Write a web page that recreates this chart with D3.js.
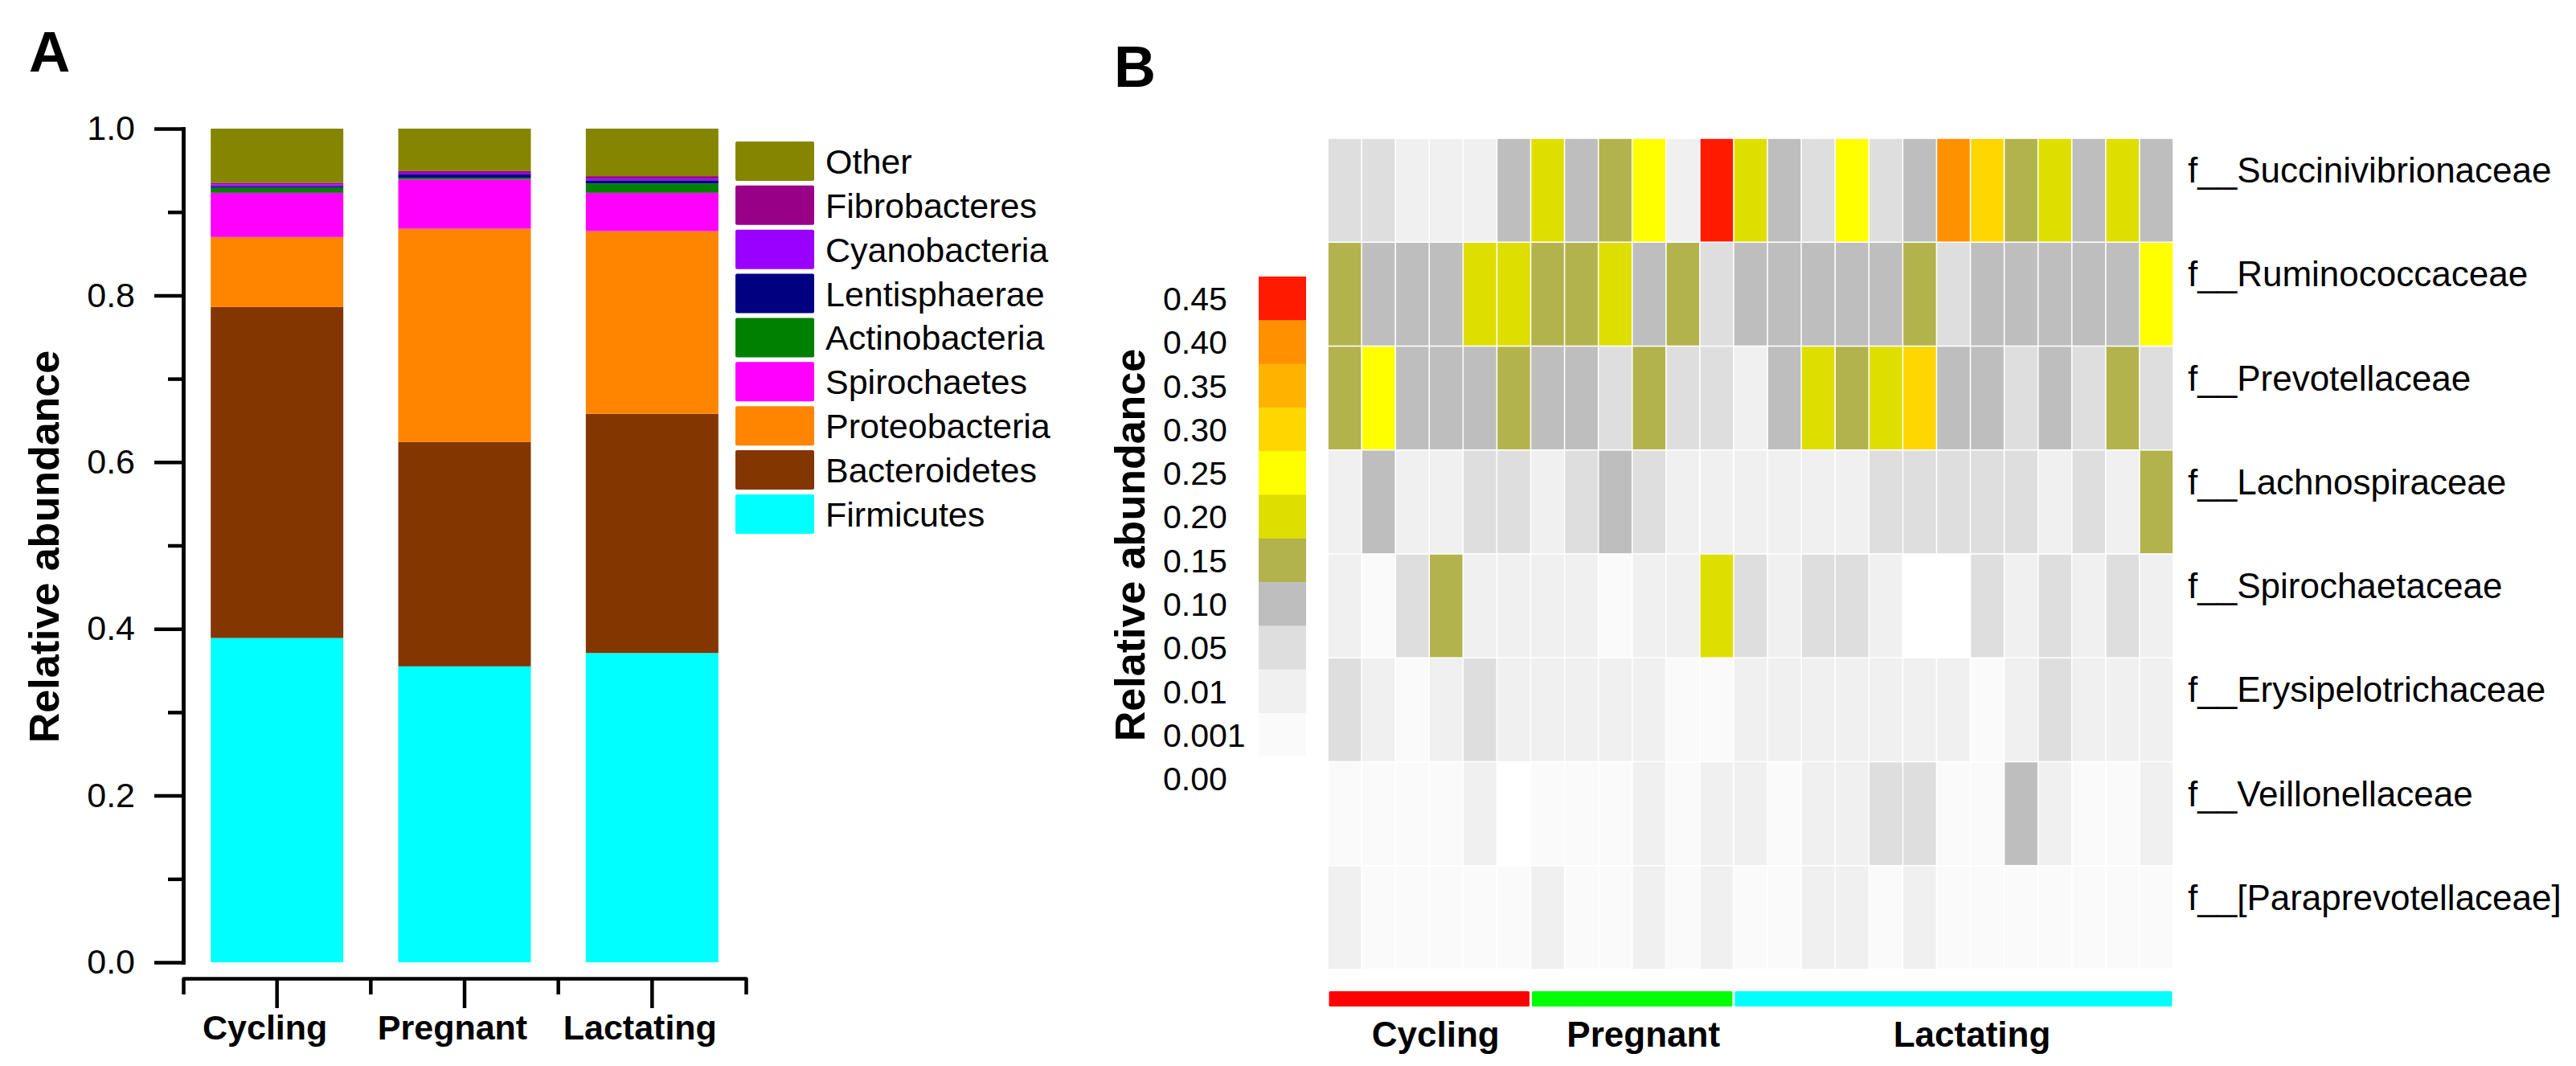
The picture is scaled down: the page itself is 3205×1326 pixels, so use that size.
<!DOCTYPE html>
<html><head><meta charset="utf-8">
<script src="https://cdn.jsdelivr.net/npm/d3@7"></script>
<style>
html,body{margin:0;padding:0;background:#fff;}
svg{display:block;font-family:"Liberation Sans",Arial,Helvetica,sans-serif;}
</style>
</head><body>
<svg id="chart" width="3205" height="1326"></svg>
<script>
// ---------------- Panel A data ----------------
const groups = ["Cycling", "Pregnant", "Lactating"];
const phyla = ["Firmicutes", "Bacteroidetes", "Proteobacteria", "Spirochaetes", "Actinobacteria", "Lentisphaerae", "Cyanobacteria", "Fibrobacteres", "Other"];
const phylumColors = ["#00FFFF", "#843600", "#FF8500", "#FF00FF", "#008000", "#000080", "#9900FF", "#990088", "#858500"];
const cyclingValues   = [0.389, 0.397, 0.084, 0.053, 0.006, 0.002, 0.002, 0.002, 0.065];
const pregnantValues  = [0.355, 0.269, 0.256, 0.059, 0.002, 0.004, 0.002, 0.002, 0.051];
const lactatingValues = [0.371, 0.287, 0.219, 0.046, 0.011, 0.004, 0.002, 0.003, 0.057];
const yMajorTicks = [0, 0.2, 0.4, 0.6, 0.8, 1.0];
const yMinorTicks = [0.1, 0.3, 0.5, 0.7, 0.9];

// ---------------- Panel B data ----------------
const families = ["f__Succinivibrionaceae", "f__Ruminococcaceae", "f__Prevotellaceae", "f__Lachnospiraceae",
                  "f__Spirochaetaceae", "f__Erysipelotrichaceae", "f__Veillonellaceae", "f__[Paraprevotellaceae]"];
const samples = ["C1","C2","C3","C4","C5","C6","P1","P2","P3","P4","P5","P6",
                 "L1","L2","L3","L4","L5","L6","L7","L8","L9","L10","L11","L12","L13"];
const sampleGroup = ["Cycling","Cycling","Cycling","Cycling","Cycling","Cycling",
                     "Pregnant","Pregnant","Pregnant","Pregnant","Pregnant","Pregnant",
                     "Lactating","Lactating","Lactating","Lactating","Lactating","Lactating","Lactating",
                     "Lactating","Lactating","Lactating","Lactating","Lactating","Lactating"];
const succinivibrionaceae = [0.07,0.06,0.03,0.02,0.03,0.12,0.22,0.13,0.17,0.27,0.02,0.47,0.21,0.12,0.08,0.28,0.07,0.13,0.42,0.32,0.18,0.23,0.11,0.22,0.12];
const ruminococcaceae     = [0.17,0.13,0.12,0.13,0.21,0.22,0.16,0.18,0.21,0.14,0.16,0.08,0.12,0.13,0.12,0.14,0.13,0.17,0.09,0.12,0.13,0.12,0.11,0.13,0.26];
const prevotellaceae      = [0.16,0.27,0.12,0.13,0.11,0.17,0.12,0.13,0.08,0.16,0.07,0.06,0.04,0.12,0.21,0.18,0.22,0.31,0.13,0.12,0.08,0.11,0.07,0.17,0.06];
const lachnospiraceae     = [0.04,0.11,0.03,0.04,0.06,0.07,0.04,0.06,0.12,0.06,0.03,0.04,0.04,0.03,0.04,0.04,0.06,0.07,0.06,0.06,0.07,0.04,0.06,0.04,0.16];
const spirochaetaceae     = [0.02,0.008,0.06,0.16,0.03,0.02,0.02,0.03,0.007,0.02,0.03,0.21,0.06,0.03,0.06,0.07,0.03,0.0008,0.0009,0.06,0.03,0.06,0.02,0.06,0.03];
const erysipelotrichaceae = [0.06,0.02,0.008,0.02,0.06,0.02,0.02,0.02,0.03,0.02,0.008,0.009,0.02,0.02,0.02,0.02,0.02,0.02,0.02,0.007,0.02,0.06,0.02,0.02,0.02];
const veillonellaceae     = [0.006,0.005,0.006,0.005,0.02,0.0005,0.005,0.006,0.005,0.02,0.006,0.02,0.02,0.007,0.02,0.02,0.06,0.06,0.005,0.006,0.11,0.02,0.006,0.005,0.02];
const paraprevotellaceae  = [0.015,0.004,0.005,0.004,0.005,0.004,0.015,0.005,0.004,0.015,0.004,0.015,0.005,0.004,0.015,0.015,0.005,0.015,0.004,0.005,0.004,0.005,0.004,0.005,0.004];
const heatBreaks = [0.001, 0.01, 0.05, 0.10, 0.15, 0.20, 0.25, 0.30, 0.35, 0.40, 0.45];
const heatColors = ["#FFFFFF", "#FAFAFA", "#F0F0F0", "#DEDEDE", "#BEBEBE", "#B3B34D", "#DEDE00", "#FFFF00", "#FFD600", "#FFB300", "#FF9100", "#FF1A00"];
const legendLabels = ["0.45", "0.40", "0.35", "0.30", "0.25", "0.20", "0.15", "0.10", "0.05", "0.01", "0.001", "0.00"];
const groupColors = ["#FF0000", "#00FF00", "#00FFFF"];

// ---------------- drawing ----------------
const svg = d3.select("#chart");
svg.append("rect").attr("width", 3205).attr("height", 1326).attr("fill", "#fff");

// ===== Panel A =====
const A = svg.append("g");
A.append("text").attr("x", 36).attr("y", 89).attr("font-size", 71).attr("font-weight", "bold").text("A");

const yA = d3.scaleLinear().domain([0, 1]).range([1197, 160]);
const xA = d3.scaleBand().domain(groups).range([228, 928]).paddingInner(0.293).paddingOuter(0.1465);
const xAxisBand = d3.scaleBand().domain(groups).range([228, 928]);

const table = groups.map((g, gi) => {
  const vals = [cyclingValues, pregnantValues, lactatingValues][gi];
  const row = {group: g};
  phyla.forEach((p, i) => row[p] = vals[i]);
  return row;
});
const stacked = d3.stack().keys(phyla)(table);
const colorA = d3.scaleOrdinal().domain(phyla).range(phylumColors);

A.append("g").selectAll("g").data(stacked).join("g")
  .attr("fill", d => colorA(d.key))
  .selectAll("rect").data(d => d).join("rect")
  .attr("x", d => xA(d.data.group))
  .attr("width", xA.bandwidth())
  .attr("y", d => yA(d[1]))
  .attr("height", d => yA(d[0]) - yA(d[1]));

// y axis
const yAxis = A.append("g").attr("transform", "translate(228,0)")
  .call(d3.axisLeft(yA).tickValues(yMajorTicks).tickFormat(d3.format(".1f")).tickSize(36).tickSizeOuter(0).tickPadding(24));
yAxis.selectAll("text").attr("font-size", 43).attr("fill", "#000").attr("font-family", "Liberation Sans, Arial, sans-serif");
const yMinor = A.append("g").attr("transform", "translate(228,0)")
  .call(d3.axisLeft(yA).tickValues(yMinorTicks).tickFormat("").tickSize(19).tickSizeOuter(0));
[yAxis, yMinor].forEach(g => {
  g.selectAll("path,line").attr("stroke", "#000").attr("stroke-width", 4.5);
  g.select(".domain").attr("stroke-linecap", "square");
});

// x axis
const xAxis = A.append("g").attr("transform", "translate(0,1217)")
  .call(d3.axisBottom(xAxisBand).tickSize(37).tickSizeOuter(20).tickFormat(""));
xAxis.selectAll("path,line").attr("stroke", "#000").attr("stroke-width", 4.5);
xAxis.select(".domain").attr("stroke-linejoin", "round");
A.append("g").selectAll("line").data(groups.slice(1)).join("line")
  .attr("x1", d => xAxisBand(d)).attr("x2", d => xAxisBand(d))
  .attr("y1", 1217).attr("y2", 1237).attr("stroke", "#000").attr("stroke-width", 4.5);
A.append("g").selectAll("text").data(groups).join("text")
  .attr("x", d => xAxisBand(d) + xAxisBand.bandwidth() / 2 - 15)
  .attr("y", 1293).attr("text-anchor", "middle")
  .attr("font-size", 43).attr("font-weight", "bold").text(d => d);

A.append("text").attr("transform", "translate(73,680) rotate(-90)")
  .attr("text-anchor", "middle").attr("font-size", 52).attr("font-weight", "bold").text("Relative abundance");

// legend A (top: Other)
const legendOrder = phyla.slice().reverse();
const legY = d3.scaleBand().domain(legendOrder).range([176, 176 + 9 * 54.25]).paddingInner(0.1);
const legA = A.append("g");
legA.selectAll("rect").data(legendOrder).join("rect")
  .attr("x", 915).attr("y", d => legY(d)).attr("width", 98).attr("height", 49)
  .attr("rx", 2).attr("fill", d => colorA(d));
legA.selectAll("text").data(legendOrder).join("text")
  .attr("x", 1027).attr("y", d => legY(d) + 24.5).attr("dy", "0.36em")
  .attr("font-size", 43).text(d => d);

// ===== Panel B =====
const B = svg.append("g");
B.append("text").attr("x", 1386).attr("y", 108).attr("font-size", 72).attr("font-weight", "bold").text("B");

const familyValues = [succinivibrionaceae, ruminococcaceae, prevotellaceae, lachnospiraceae,
                      spirochaetaceae, erysipelotrichaceae, veillonellaceae, paraprevotellaceae];
const xB = d3.scaleBand().domain(samples).range([1652, 2704]);
const yB = d3.scaleBand().domain(families).range([172, 1206]);
const heatColor = d3.scaleThreshold().domain(heatBreaks).range(heatColors);

const cells = [];
families.forEach((f, fi) => samples.forEach((s, si) => cells.push({f, s, v: familyValues[fi][si]})));
B.append("g").selectAll("rect").data(cells).join("rect")
  .attr("x", d => xB(d.s) + 0.8).attr("y", d => yB(d.f) + 0.8)
  .attr("width", xB.bandwidth() - 1.6).attr("height", yB.bandwidth() - 1.6)
  .attr("fill", d => heatColor(d.v));

B.append("g").selectAll("text").data(families).join("text")
  .attr("x", 2722).attr("y", d => yB(d) + 55)
  .attr("font-size", 44).text(d => d);

// group bar
const gColor = d3.scaleOrdinal().domain(groups).range(groupColors);
const groupExtent = groups.map(g => {
  const idx = samples.filter((s, i) => sampleGroup[i] === g);
  return {g, x0: xB(idx[0]), x1: xB(idx[idx.length - 1]) + xB.bandwidth()};
});
B.append("g").selectAll("rect").data(groupExtent).join("rect")
  .attr("x", d => d.x0 + 1.5).attr("width", d => d.x1 - d.x0 - 3)
  .attr("y", 1233).attr("height", 19).attr("rx", 1.5)
  .attr("fill", d => gColor(d.g));
B.append("g").selectAll("text").data(groupExtent).join("text")
  .attr("x", (d, i) => (d.x0 + d.x1) / 2 + [8, 14, 23][i]).attr("y", 1302)
  .attr("text-anchor", "middle").attr("font-size", 44).attr("font-weight", "bold").text(d => d.g);

// color legend
const legB = d3.scaleBand().domain(legendLabels).range([344, 344 + 12 * 54.3]);
B.append("g").selectAll("rect").data(legendLabels).join("rect")
  .attr("x", 1566).attr("y", d => legB(d)).attr("width", 59).attr("height", legB.bandwidth() + 0.5)
  .attr("fill", d => heatColor(+d));
B.append("g").selectAll("text").data(legendLabels).join("text")
  .attr("x", 1447).attr("y", d => legB(d) + legB.bandwidth() / 2).attr("dy", "0.36em")
  .attr("font-size", 41).text(d => d);
B.append("text").attr("transform", "translate(1424,678) rotate(-90)")
  .attr("text-anchor", "middle").attr("font-size", 52).attr("font-weight", "bold").text("Relative abundance");
</script>
</body></html>
